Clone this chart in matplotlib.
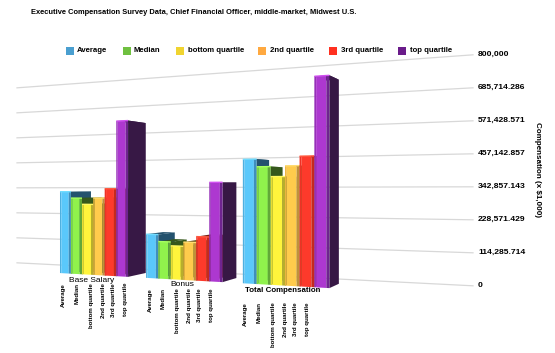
import matplotlib.pyplot as plt
import numpy as np

plt.rcParams["font.family"] = ["Liberation Sans", "DejaVu Sans"]

title = "Executive Compensation Survey Data, Chief Financial Officer, middle-market, Midwest U.S."
axis_title = "Compensation (x $1,000)"
categories = ["Base Salary", "Bonus", "Total Compensation"]
series = ["Average", "Median", "bottom quartile", "2nd quartile", "3rd quartile", "top quartile"]

base_salary = [361000, 333000, 306000, 334000, 374000, 663000]
bonus = [183000, 154000, 138000, 155000, 179000, 399000]
total_comp = [489000, 459000, 420000, 461000, 497000, 798000]
values = [base_salary, bonus, total_comp]

y_max = 800000
n_ticks = 8

# colours per series: legend, front face, left edge, right edge, side face, top edge
legend_colors = ["#4a9fd0", "#6fc040", "#f0d430", "#ffa940", "#ff3020", "#6a1b8a"]
front_colors = ["#5ac8fb", "#90f24c", "#fff43c", "#ffcb4c", "#fd3a2b", "#ad38d0"]
edge_colors = ["#4fb0e0", "#7ed840", "#e8dc34", "#eeb640", "#ee3226", "#9630b8"]
shade_colors = ["#3f8fbd", "#62a838", "#b8ae2c", "#c0913a", "#c42a1e", "#6f2490"]
side_colors = ["#24526e", "#36581c", "#3a5a16", "#6a5420", "#7a1c12", "#371845"]
top_colors = ["#70dcff", "#a8ff60", "#fff860", "#ffdc70", "#ff5a40", "#d050f0"]

# perspective of the chart in pixels, both planes share the left vanishing point
VP_X, VP_Y = -1408, 191
PX_PER_VALUE = 0.1228 / y_max
FRONT_SLOPE = 0.0559
WALL_SLOPE = 0.0504
DEPTH_VP = (560, 182)
DEPTH = 0.041
GROUP_STEP = 7.5


def project(u, v, back=False):
    # u is the bar slot along the category axis, v the value
    X = 1 / (6.812e-4 - 5.03e-6 * u)
    x = VP_X + X
    y = VP_Y + X * (FRONT_SLOPE - PX_PER_VALUE * v)
    if back:
        x = x + DEPTH * (DEPTH_VP[0] - x)
        y = y + DEPTH * (DEPTH_VP[1] - y)
    return x, y


def wall_y(x, v):
    X = x - VP_X
    return VP_Y + X * (WALL_SLOPE - PX_PER_VALUE * v)


def draw_bar(ax, u, v, s):
    # side and top first, the front goes over them
    corners = [project(u + 1, 0), project(u + 1, 0, True), project(u + 1, v, True), project(u + 1, v)]
    ax.fill(*zip(*corners), color=side_colors[s], lw=0, zorder=3)
    corners = [project(u, v), project(u + 1, v), project(u + 1, v, True), project(u, v, True)]
    ax.fill(*zip(*corners), color=side_colors[s], lw=0, zorder=3)

    strips = [(0, 0.12, edge_colors[s]), (0.12, 0.8, front_colors[s]), (0.8, 1, shade_colors[s])]
    for a, b, color in strips:
        corners = [project(u + a, 0), project(u + b, 0), project(u + b, v), project(u + a, v)]
        ax.fill(*zip(*corners), color=color, lw=0, zorder=3)
    ax.plot(*zip(project(u, v), project(u + 1, v)), color=top_colors[s], lw=1, solid_capstyle="butt", zorder=3)


fig = plt.figure(figsize=(5.55, 3.53), dpi=100)
ax = fig.add_axes([0, 0, 1, 1])
ax.set_xlim(0, 555)
ax.set_ylim(353, 0)
ax.axis("off")

# back wall grid and value labels
ticks = np.linspace(0, y_max, n_ticks)
for t in ticks:
    ax.plot([17, 473], [wall_y(17, t), wall_y(473, t)], color="#d8d8d8", lw=0.9, zorder=1)
    if t == 0 or t == y_max:
        label = f"{t:,.0f}"
    else:
        label = f"{t:,.3f}"
    ax.text(478, wall_y(473, t), label, fontsize=6.1, fontweight="bold", va="center", ha="left", zorder=5)

ax.text(537, 170, axis_title, rotation=270, fontsize=5.8, fontweight="bold", va="center", ha="center")

for g, group in enumerate(values):
    for s, v in enumerate(group):
        draw_bar(ax, g * GROUP_STEP + s, v, s)

# bar labels under each group
label_x = [[63, 77, 92, 103, 113, 125], [150, 163, 178, 190, 200, 212], [245, 259, 273, 285, 296, 307]]
label_y = [283, 288, 302]
for g in range(len(categories)):
    for s, name in enumerate(series):
        ax.text(label_x[g][s], label_y[g], name, rotation=90, fontsize=4.4, fontweight="bold",
                va="top", ha="center", zorder=5)

cat_x = [92, 182, 283]
cat_y = [280, 285, 291]
cat_weight = ["normal", "normal", "bold"]
cat_size = [6.0, 6.0, 5.7]
for g, name in enumerate(categories):
    ax.text(cat_x[g], cat_y[g], name, fontsize=cat_size[g], fontweight=cat_weight[g], va="center", ha="center", zorder=6)

# legend
swatch_x = [66, 123, 176, 258, 329, 398]
text_x = [77, 134, 188, 270, 341, 410]
for s, name in enumerate(series):
    ax.add_patch(plt.Rectangle((swatch_x[s], 47), 7.5, 7.5, color=legend_colors[s], lw=0))
    ax.text(text_x[s], 50.5, name, fontsize=5.6, fontweight="bold", va="center", ha="left", zorder=5)

ax.text(31, 13, title, fontsize=5.4, fontweight="bold", va="center", ha="left")

fig.savefig("out.png", dpi=100)
